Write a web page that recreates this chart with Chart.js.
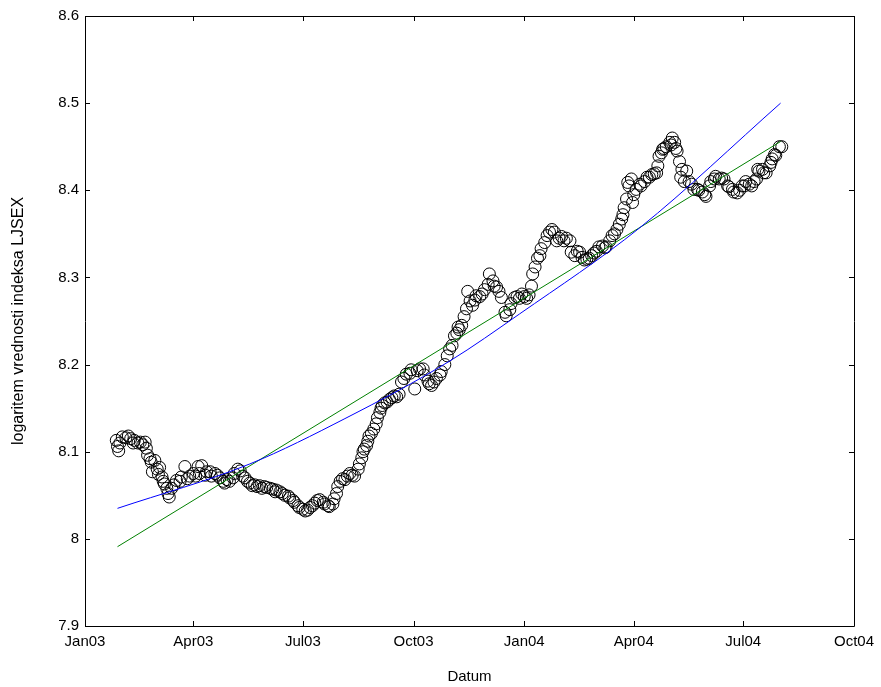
<!DOCTYPE html>
<html lang="en">
<head>
<meta charset="UTF-8" />
<title>LJSEX - logaritem vrednosti indeksa</title>
<script src="https://cdn.jsdelivr.net/npm/chart.js"></script>
<style>
body {
    margin: 0;
    background: #ffffff;
}
#wrap {
    width: 881px;
    height: 687px;
}
</style>
</head>
<body>
<div id="wrap"><canvas id="ljsexChart" width="881" height="687"></canvas></div>

<script>
// days counted from 1 Jan 2003, one entry per observation
const tradingDays = [
    26, 27, 28, 29, 31, 34, 36, 38, 40, 41, 44, 46, 48, 50, 51, 52, 54, 55, 56, 58,
    60, 61, 62, 64, 65, 66, 68, 69, 70, 72, 74, 76, 79, 80, 83, 85, 87, 90, 92, 94,
    95, 97, 100, 101, 104, 105, 108, 110, 112, 115, 116, 118, 120, 123, 124, 127, 129, 131, 133, 135,
    137, 139, 141, 143, 145, 147, 149, 151, 154, 156, 158, 159, 162, 164, 166, 169, 170, 173, 174, 177,
    178, 181, 183, 185, 187, 189, 191, 193, 195, 198, 199, 202, 203, 206, 207, 209, 210, 212, 214, 216,
    218, 220, 222, 224, 227, 228, 230, 231, 232, 234, 235, 236, 238, 240, 242, 243, 245, 246, 247, 249,
    251, 253, 255, 257, 259, 261, 263, 265, 267, 270, 271, 274, 276, 278, 281, 282, 285, 286, 288, 290,
    292, 295, 296, 299, 301, 303, 305, 307, 309, 310, 311, 313, 315, 317, 318, 320, 322, 324, 325, 328,
    330, 332, 335, 336, 339, 340, 342, 344, 346, 349, 350, 353, 354, 357, 359, 361, 363, 365, 367, 369,
    371, 372, 374, 376, 378, 379, 382, 384, 386, 388, 390, 392, 394, 396, 398, 400, 403, 404, 407, 409,
    411, 413, 415, 417, 419, 421, 423, 425, 427, 430, 432, 433, 436, 438, 440, 442, 444, 446, 447, 448,
    450, 451, 452, 454, 455, 456, 458, 461, 462, 465, 467, 469, 471, 473, 475, 476, 477, 479, 480, 481,
    483, 486, 487, 488, 490, 491, 492, 494, 495, 496, 498, 500, 502, 504, 506, 509, 510, 513, 515, 516,
    519, 520, 523, 524, 527, 529, 531, 534, 535, 538, 539, 542, 544, 546, 548, 549, 552, 554, 556, 558,
    559, 560, 563, 564, 566, 569, 570, 571, 573, 574, 577, 579
];

const lnIndex = [
    8.113, 8.106, 8.101, 8.110, 8.117, 8.116, 8.118, 8.115, 8.110, 8.113, 8.110, 8.111, 8.108, 8.111, 8.104, 8.096, 8.092, 8.088, 8.077, 8.090,
    8.080, 8.074, 8.082, 8.071, 8.066, 8.063, 8.058, 8.052, 8.048, 8.058, 8.062, 8.067, 8.066, 8.071, 8.083, 8.069, 8.072, 8.075, 8.072, 8.083,
    8.075, 8.084, 8.073, 8.077, 8.077, 8.072, 8.075, 8.073, 8.070, 8.066, 8.064, 8.068, 8.066, 8.070, 8.075, 8.080, 8.078, 8.072, 8.070, 8.066,
    8.064, 8.061, 8.062, 8.060, 8.061, 8.058, 8.060, 8.059, 8.058, 8.057, 8.054, 8.056, 8.054, 8.052, 8.050, 8.049, 8.047, 8.044, 8.042, 8.038,
    8.036, 8.034, 8.032, 8.033, 8.036, 8.038, 8.041, 8.044, 8.045, 8.042, 8.040, 8.038, 8.037, 8.040, 8.046, 8.052, 8.060, 8.066, 8.069, 8.068,
    8.072, 8.075, 8.073, 8.072, 8.080, 8.086, 8.093, 8.100, 8.103, 8.107, 8.112, 8.118, 8.121, 8.126, 8.132, 8.139, 8.145, 8.150, 8.153, 8.156,
    8.157, 8.160, 8.162, 8.164, 8.163, 8.166, 8.180, 8.184, 8.189, 8.190, 8.194, 8.172, 8.193, 8.195, 8.195, 8.188, 8.181, 8.178, 8.176, 8.180,
    8.184, 8.188, 8.192, 8.200, 8.210, 8.218, 8.222, 8.233, 8.236, 8.243, 8.240, 8.245, 8.255, 8.264, 8.284, 8.273, 8.268, 8.274, 8.279, 8.278,
    8.281, 8.286, 8.292, 8.304, 8.296, 8.290, 8.289, 8.284, 8.277, 8.260, 8.256, 8.263, 8.270, 8.277, 8.278, 8.276, 8.281, 8.278, 8.276, 8.280,
    8.290, 8.304, 8.312, 8.322, 8.325, 8.333, 8.340, 8.348, 8.352, 8.355, 8.352, 8.342, 8.345, 8.347, 8.342, 8.345, 8.342, 8.329, 8.325, 8.330,
    8.329, 8.323, 8.320, 8.321, 8.322, 8.325, 8.328, 8.330, 8.335, 8.336, 8.334, 8.335, 8.342, 8.348, 8.350, 8.355, 8.361, 8.367, 8.372, 8.380,
    8.390, 8.409, 8.405, 8.413, 8.386, 8.395, 8.401, 8.407, 8.405, 8.410, 8.415, 8.415, 8.418, 8.419, 8.420, 8.428, 8.439, 8.443, 8.447, 8.448,
    8.450, 8.455, 8.452, 8.460, 8.455, 8.448, 8.445, 8.433, 8.415, 8.424, 8.410, 8.422, 8.410, 8.407, 8.401, 8.401, 8.400, 8.398, 8.395, 8.393,
    8.405, 8.410, 8.413, 8.416, 8.413, 8.414, 8.413, 8.405, 8.404, 8.401, 8.398, 8.397, 8.400, 8.405, 8.405, 8.410, 8.407, 8.405, 8.410, 8.413,
    8.424, 8.422, 8.424, 8.420, 8.420, 8.428, 8.432, 8.436, 8.441, 8.440, 8.450, 8.450
];

// linear trend (green)
const linearDays = [27, 578];
const linearFit = [7.991, 8.456];

// curved trend (blue)
const curveDays = [27, 137, 216, 303, 361, 461, 578];
const curveFit = [8.035, 8.086, 8.138, 8.204, 8.258, 8.357, 8.500];

const monthTicks = [0, 90, 181, 273, 365, 456, 547, 639];
const monthLabels = ['Jan03', 'Apr03', 'Jul03', 'Oct03', 'Jan04', 'Apr04', 'Jul04', 'Oct04'];

const FONT = "'Liberation Sans', Arial, Helvetica, sans-serif";

function toPoints(xs, ys) {
    return xs.map((x, i) => ({ x: x, y: ys[i] }));
}

// box around the axes with short inward ticks on all four sides
const matlabBox = {
    id: 'matlabBox',
    afterDraw(chart) {
        const ctx = chart.ctx;
        const a = chart.chartArea;
        const xs = chart.scales.x;
        const ys = chart.scales.y;
        const len = 5;
        ctx.save();
        ctx.strokeStyle = '#000';
        ctx.lineWidth = 1;
        ctx.beginPath();
        ctx.rect(Math.round(a.left) + 0.5, Math.round(a.top) + 0.5,
                 Math.round(a.right - a.left), Math.round(a.bottom - a.top));
        xs.ticks.forEach(t => {
            const px = Math.round(xs.getPixelForValue(t.value)) + 0.5;
            ctx.moveTo(px, a.bottom);
            ctx.lineTo(px, a.bottom - len);
            ctx.moveTo(px, a.top);
            ctx.lineTo(px, a.top + len);
        });
        ys.ticks.forEach(t => {
            const py = Math.round(ys.getPixelForValue(t.value)) + 0.5;
            ctx.moveTo(a.left, py);
            ctx.lineTo(a.left + len, py);
            ctx.moveTo(a.right, py);
            ctx.lineTo(a.right - len, py);
        });
        ctx.stroke();
        ctx.restore();
    }
};

new Chart(document.getElementById('ljsexChart'), {
    type: 'scatter',
    data: {
        datasets: [
            {
                label: 'LJSEX',
                data: toPoints(tradingDays, lnIndex),
                pointStyle: 'circle',
                pointRadius: 6,
                pointBorderWidth: 1,
                pointBorderColor: '#000000',
                pointBackgroundColor: 'rgba(0,0,0,0)',
                showLine: false,
                order: 3
            },
            {
                label: 'linearni trend',
                data: toPoints(linearDays, linearFit),
                showLine: true,
                borderColor: '#008000',
                borderWidth: 1,
                pointRadius: 0,
                order: 2
            },
            {
                label: 'eksponentni trend',
                data: toPoints(curveDays, curveFit),
                showLine: true,
                borderColor: '#0000ff',
                borderWidth: 1,
                pointRadius: 0,
                cubicInterpolationMode: 'monotone',
                order: 1
            }
        ]
    },
    options: {
        responsive: false,
        animation: false,
        layout: { padding: { top: 16, right: 26, bottom: 0, left: 0 } },
        plugins: {
            legend: { display: false },
            tooltip: { enabled: false }
        },
        scales: {
            x: {
                type: 'linear',
                min: 0,
                max: 639,
                grid: { display: false, drawTicks: false },
                border: { display: false },
                afterBuildTicks: scale => {
                    scale.ticks = monthTicks.map(v => ({ value: v }));
                },
                afterFit: scale => { scale.height = 61; },
                ticks: {
                    autoSkip: false,
                    maxRotation: 0,
                    padding: 7,
                    color: '#000',
                    font: { family: FONT, size: 15 },
                    callback: (v, i) => monthLabels[i]
                },
                title: {
                    display: true,
                    text: 'Datum',
                    color: '#000',
                    font: { family: FONT, size: 15 },
                    padding: { top: 0, bottom: 1 }
                }
            },
            y: {
                min: 7.9,
                max: 8.6,
                grid: { display: false, drawTicks: false },
                border: { display: false },
                afterFit: scale => { scale.width = 85; },
                ticks: {
                    stepSize: 0.1,
                    padding: 6,
                    color: '#000',
                    font: { family: FONT, size: 15 },
                    callback: v => String(Number(v.toFixed(1)))
                },
                title: {
                    display: true,
                    text: 'logaritem vrednosti indeksa LJSEX',
                    color: '#000',
                    font: { family: FONT, size: 16 },
                    padding: { top: 9, bottom: 0 }
                }
            }
        }
    },
    plugins: [matlabBox]
});
</script>
</body>
</html>
